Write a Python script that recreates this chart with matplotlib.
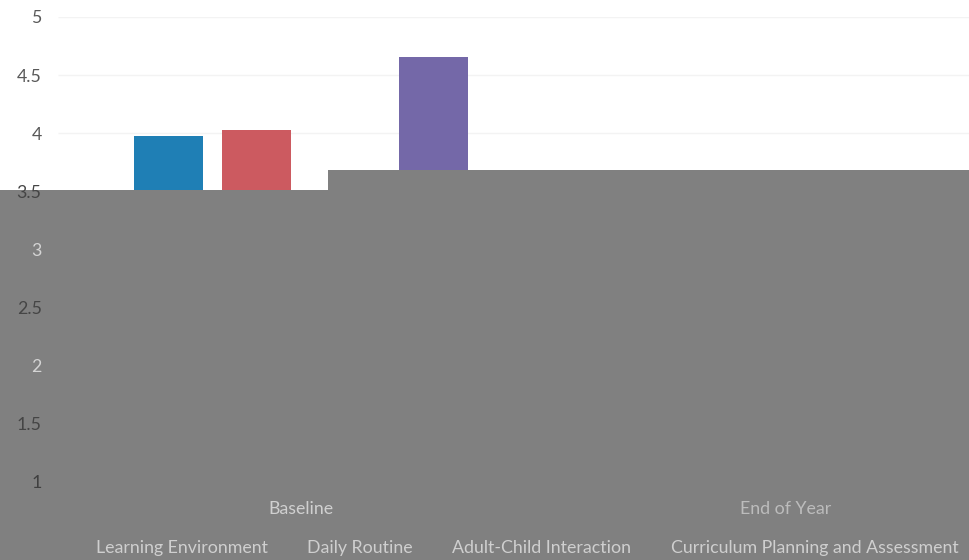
import numpy as np
import matplotlib.pyplot as plt
from matplotlib.patches import Polygon

# data (hidden bars under the grey block are rough guesses)
groups = ['Baseline', 'End of Year']
series = ['Learning Environment', 'Daily Routine', 'Adult-Child Interaction',
          'Curriculum Planning and Assessment']
baseline = [3.98, 4.03, 3.45, 4.66]
end_of_year = [3.60, 3.55, 3.50, 3.62]
colors = ['#1f7fb5', '#cc5a60', '#8cb04f', '#7468a8']

yticks = [1, 1.5, 2, 2.5, 3, 3.5, 4, 4.5, 5]
ytick_labels = ['1', '1.5', '2', '2.5', '3', '3.5', '4', '4.5', '5']
ytick_colors = ['#404040', '#454545', '#d4d4d4', '#454545', '#d4d4d4',
                '#454545', '#595959', '#595959', '#595959']

plt.rcParams['font.family'] = ['Lato', 'DejaVu Sans']
fs = 12.8

W, H = 969, 560
fig = plt.figure(figsize=(W / 100, H / 100), dpi=100)
ax = fig.add_axes([58.3 / W, (H - 482) / H, 970 / W, 465 / H])
ax.set_axisbelow(False)

x = np.arange(len(groups))
width = 0.1416
step = 0.182
vals = np.array([baseline, end_of_year])
for i, name in enumerate(series):
    ax.bar(x + (i - 1.5) * step, vals[:, i], width, bottom=0, color=colors[i],
           label=name, zorder=1)

ax.set_xlim(-0.5, 1.5)
ax.set_ylim(1, 5)

# faint gridlines
ax.hlines(yticks[1:], -0.5, 1.5, color='#f3f3f3', lw=1, zorder=0.5)

for s in ax.spines.values():
    s.set_visible(False)
ax.tick_params(length=0)
ax.set_yticks(yticks)
ax.set_yticklabels(ytick_labels, fontsize=fs)
ax.tick_params(axis='y', pad=12)
for lbl, c in zip(ax.get_yticklabels(), ytick_colors):
    lbl.set_color(c)
ax.set_xticks(x)
ax.set_xticklabels(groups, fontsize=fs)
ax.tick_params(axis='x', pad=14)
ax.get_xticklabels()[0].set_color('#d0d0d0')
ax.get_xticklabels()[1].set_color('#bcbcbc')

# grey block covering the lower part of the picture, as in the source image
px = lambda a, b: (a / W, 1 - b / H)
block = Polygon([px(0, 190), px(328, 190), px(328, 170), px(W, 170), px(W, H), px(0, H)],
                closed=True, transform=fig.transFigure, facecolor='#808080',
                edgecolor='none', zorder=2, clip_on=False)
ax.add_patch(block)

leg = ax.legend(loc='center left', bbox_to_anchor=(76 / W, 1 - 548 / H),
                bbox_transform=fig.transFigure, ncol=4, frameon=False,
                fontsize=fs, handlelength=0.7, handletextpad=0.4,
                columnspacing=1.12, borderaxespad=0, borderpad=0)
for h in leg.legend_handles:
    h.set_visible(False)
for t in leg.get_texts():
    t.set_color('#cfcfcf')

fig.savefig('out.png', dpi=100)
